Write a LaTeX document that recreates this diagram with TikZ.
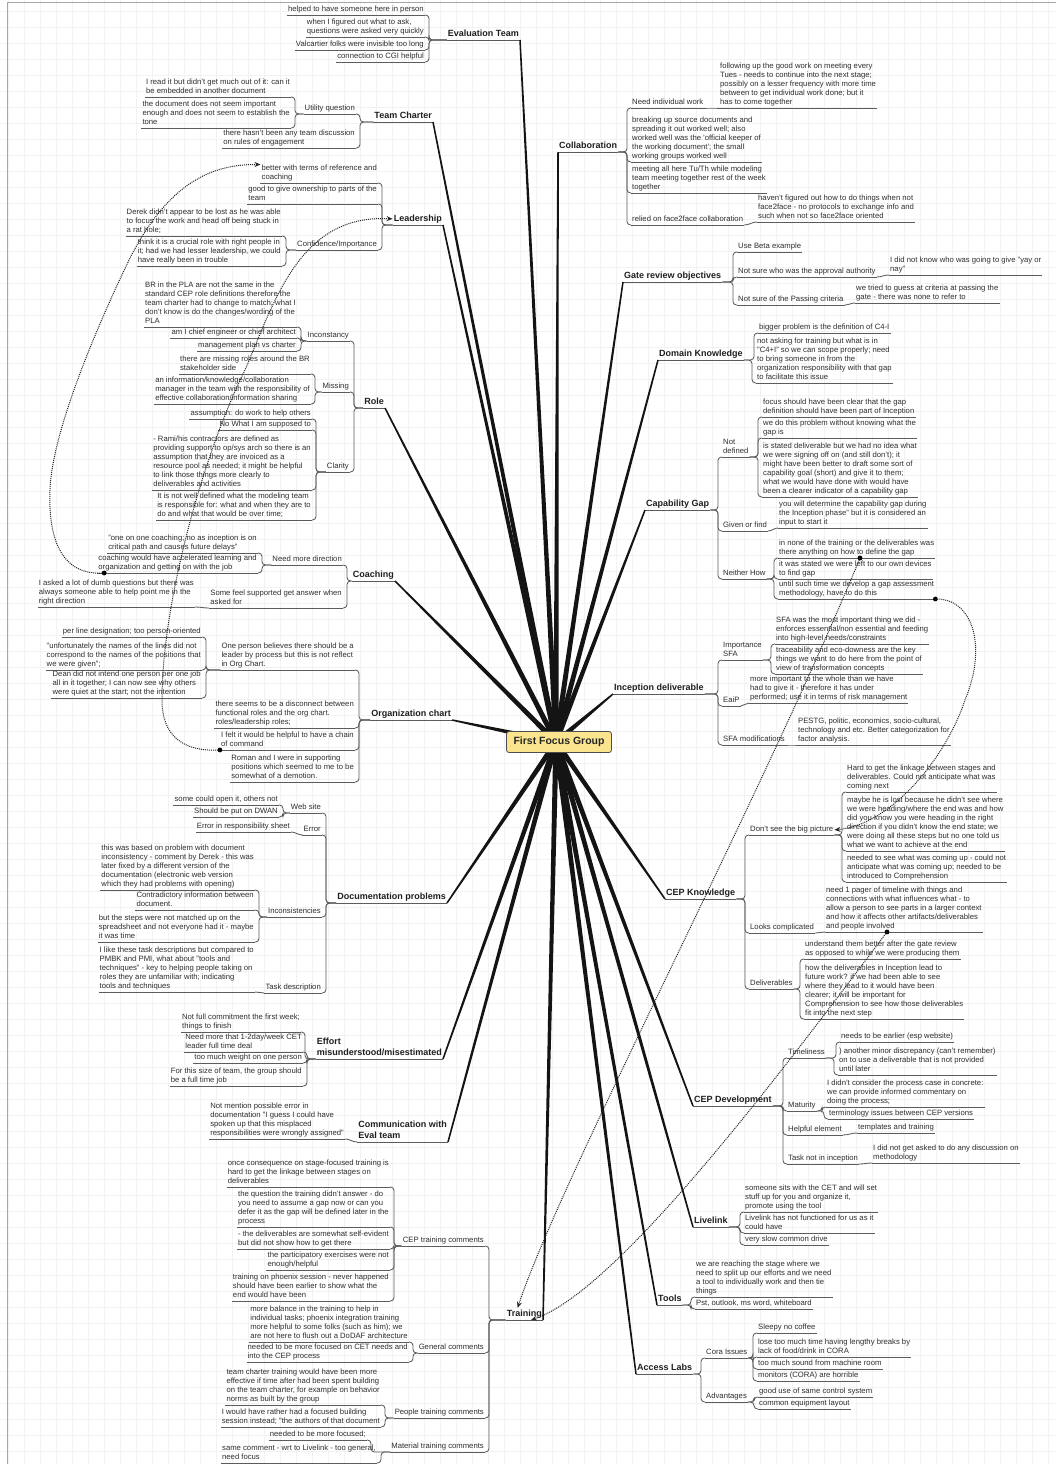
\documentclass[tikz,border=0pt]{standalone}
\usepackage{fontspec}
\setmainfont{Liberation Sans}
\usetikzlibrary{calc,arrows.meta}

% branch from a parent to a child placed on its right / on its left
\newcommand\brR[2]{\draw[br] (#1.south east) -| ([xshift=-4pt]#2.south west) -- (#2.south west);}
\newcommand\brL[2]{\draw[br] (#1.south west) -| ([xshift=4pt]#2.south east) -- (#2.south east);}
% short s-shaped link between a topic and a child on (almost) the same row
\newcommand\brSR[2]{\draw[br] (#1.south east) to[out=0,in=180] (#2.south west);}
\newcommand\brSL[2]{\draw[br] (#1.south west) to[out=180,in=0] (#2.south east);}
% tapered main branch from the central topic
\newcommand\trunk[1]{\fill[black!92] ($(ctr)!2.7pt!90:(#1)$) -- ($(#1)!0.75pt!-90:(ctr)$) -- ($(#1)!0.75pt!90:(ctr)$) -- ($(ctr)!2.7pt!-90:(#1)$) -- cycle;}

\begin{document}
\begin{tikzpicture}[x=1pt,y=-1pt,
  uline/.style={draw=black!64, line width=0.85pt},
  ul/.style={append after command={(\tikzlastnode.south west) edge[uline] (\tikzlastnode.south east)}},
  txt/.style={font=\fontsize{7.7}{9}\selectfont, text=black!82, align=left, inner xsep=1pt, inner ysep=0.4pt, execute at end node=\strut, ul},
  rl/.style={txt, anchor=south west},
  lf/.style={txt, anchor=south east},
  main/.style={font=\bfseries\fontsize{9}{10.6}\selectfont, text=black!88, align=left, inner xsep=1pt, inner ysep=0.6pt, execute at end node=\strut, ul},
  mr/.style={main, anchor=south west},
  ml/.style={main, anchor=south east},
  br/.style={draw=black!64, line width=0.85pt, rounded corners=3.5pt},
  rel/.style={draw=black!85, densely dotted, line width=1pt, -{Stealth[length=6pt,width=5pt]}},
  gridc/.style={draw=black!5, line width=0.4pt},
  rootbox/.style={draw=black!70, line width=0.8pt, fill={rgb,255:red,250;green,228;blue,142}, rounded corners=2.5pt, minimum width=105pt, minimum height=21pt, font=\bfseries\fontsize{10.5}{12}\selectfont, text=black!85}
]
\useasboundingbox (0,0) rectangle (1056,1464);
\fill[white] (0,0) rectangle (1056,1464);
\foreach \i in {8,24,...,1056} \draw[gridc] (\i,0) -- (\i,1464);
\foreach \j in {11,27,...,1464} \draw[gridc] (0,\j) -- (1056,\j);
\draw[black!35, line width=1pt] (7,1464) -- (7,3) -- (1056,3);

\coordinate (ctr) at (556,742);

% ---------------- right-hand topics ----------------
\node[mr] (col) at (558,152) {Collaboration};
\node[rl] (col1) at (631,108) {Need individual work};
\node[rl] (col1a) at (719,108) {following up the good work on meeting every\\Tues - needs to continue into the next stage;\\possibly on a lesser frequency with more time\\between to get individual work done; but it\\has to come together};
\node[rl] (col2) at (631,162) {breaking up source documents and\\spreading it out worked well; also\\worked well was the 'official keeper of\\the working document'; the small\\working groups worked well};
\node[rl] (col3) at (631,193) {meeting all here Tu/Th while modeling\\team meeting together rest of the week\\together};
\node[rl] (col4) at (631,225) {relied on face2face collaboration};
\node[rl] (col4a) at (757,222) {haven't figured out how to do things when not\\face2face - no protocols to exchange info and\\such when not so face2face oriented};
\brR{col}{col1}\brR{col}{col2}\brR{col}{col3}\brR{col}{col4}
\brSR{col1}{col1a}\brSR{col4}{col4a}

\node[mr] (gro) at (623,282) {Gate review objectives};
\node[rl] (gro1) at (737,252) {Use Beta example};
\node[rl] (gro2) at (737,277) {Not sure who was the approval authority};
\node[rl] (gro2a) at (889,275) {I did not know who was going to give "yay or\\nay"};
\node[rl] (gro3) at (737,305) {Not sure of the Passing criteria};
\node[rl] (gro3a) at (855,303) {we tried to guess at criteria at passing the\\gate - there was none to refer to};
\brR{gro}{gro1}\brR{gro}{gro2}\brR{gro}{gro3}\brSR{gro2}{gro2a}\brSR{gro3}{gro3a}

\node[mr] (dk) at (658,360) {Domain Knowledge};
\node[rl] (dk1) at (758,333) {bigger problem is the definition of C4-I};
\node[rl] (dk2) at (756,383) {not asking for training but what is in\\"C4+I" so we can scope properly; need\\to bring someone in from the\\organization responsibility with that gap\\to facilitate this issue};
\brR{dk}{dk1}\brR{dk}{dk2}

\node[mr] (cg) at (645,510) {Capability Gap};
\node[rl] (cg1) at (722,457) {Not\\defined};
\node[rl] (cg1a) at (762,417) {focus should have been clear that the gap\\definition should have been part of Inception};
\node[rl] (cg1b) at (762,438) {we do this problem without knowing what the\\gap is};
\node[rl] (cg1c) at (762,497) {is stated deliverable but we had no idea what\\we were signing off on (and still don't); it\\might have been better to draft some sort of\\capability goal (short) and give it to them;\\what we would have done with would have\\been a clearer indicator of a capability gap};
\node[rl] (cg2) at (722,531) {Given or find};
\node[rl] (cg2a) at (778,528) {you will determine the capability gap during\\the Inception phase" but it is considered an\\input to start it};
\node[rl] (cg3) at (722,579) {Neither How};
\node[rl] (cg3a) at (778,558) {in none of the training or the deliverables was\\there anything on how to define the gap};
\node[rl] (cg3b) at (778,579) {it was stated we were left to our own devices\\to find gap};
\node[rl] (cg3c) at (778,599) {until such time we develop a gap assessment\\methodology, have to do this};
\brR{cg}{cg1}\brR{cg}{cg2}\brR{cg}{cg3}
\brR{cg1}{cg1a}\brR{cg1}{cg1b}\brR{cg1}{cg1c}\brSR{cg2}{cg2a}
\brR{cg3}{cg3a}\brR{cg3}{cg3b}\brR{cg3}{cg3c}

\node[mr] (id) at (613,694) {Inception deliverable};
\node[rl] (id1) at (722,660) {Importance\\SFA};
\node[rl] (id1a) at (775,644) {SFA was the most important thing we did -\\enforces essential/non essential and feeding\\into high-level needs/constraints};
\node[rl] (id1b) at (775,674) {traceability and eco-downess are the key\\things we want to do here from the point of\\view of transformation concepts};
\node[rl] (id2) at (722,706) {EaiP};
\node[rl] (id2a) at (749,703) {more important to the whole than we have\\had to give it - therefore it has under\\performed; use it in terms of risk management};
\node[rl] (id3) at (722,745) {SFA modifications};
\node[rl] (id3a) at (797,745) {PESTG, politic, economics, socio-cultural,\\technology and etc. Better categorization for\\factor analysis.};
\brR{id}{id1}\brR{id}{id2}\brR{id}{id3}
\brR{id1}{id1a}\brR{id1}{id1b}\brSR{id2}{id2a}\brSR{id3}{id3a}

\node[mr] (ck) at (665,899) {CEP Knowledge};
\node[rl] (ck1) at (749,835) {Don't see the big picture};
\node[rl] (ck1a) at (846,792) {Hard to get the linkage between stages and\\deliverables. Could not anticipate what was\\coming next};
\node[rl] (ck1b) at (846,851) {maybe he is lost because he didn't see where\\we were heading/where the end was and how\\did you know you were heading in the right\\direction if you didn't know the end state; we\\were doing all these steps but no one told us\\what we want to achieve at the end};
\node[rl] (ck1c) at (846,882) {needed to see what was coming up - could not\\anticipate what was coming up; needed to be\\introduced to Comprehension};
\node[rl] (ck2) at (749,933) {Looks complicated};
\node[rl] (ck2a) at (825,932) {need 1 pager of timeline with things and\\connections with what influences what - to\\allow a person to see parts in a larger context\\and how it affects other artifacts/deliverables\\and people involved};
\node[rl] (ck3) at (749,989) {Deliverables};
\node[rl] (ck3a) at (804,959) {understand them better after the gate review\\as opposed to while we were producing them};
\node[rl] (ck3b) at (804,1019) {how the deliverables in Inception lead to\\future work? if we had been able to see\\where they lead to it would have been\\clearer; it will be important for\\Comprehension to see how those deliverables\\fit into the next step};
\brR{ck}{ck1}\brR{ck}{ck2}\brR{ck}{ck3}
\brR{ck1}{ck1a}\brR{ck1}{ck1b}\brR{ck1}{ck1c}\brSR{ck2}{ck2a}
\brR{ck3}{ck3a}\brR{ck3}{ck3b}

\node[mr] (cd) at (693,1106) {CEP Development};
\node[rl] (cd1) at (787,1058) {Timeliness};
\node[rl] (cd1a) at (840,1042) {needs to be earlier (esp website)};
\node[rl] (cd1b) at (838,1075) {) another minor discrepancy (can't remember)\\on to use a deliverable that is not provided\\until later};
\node[rl] (cd2) at (787,1111) {Maturity};
\node[rl] (cd2a) at (826,1107) {I didn't consider the process case in concrete:\\we can provide informed commentary on\\doing the process;};
\node[rl] (cd2b) at (828,1119) {terminology issues between CEP versions};
\node[rl] (cd3) at (787,1135) {Helpful element};
\node[rl] (cd3a) at (857,1133) {templates and training};
\node[rl] (cd4) at (787,1164) {Task not in inception};
\node[rl] (cd4a) at (872,1163) {I did not get asked to do any discussion on\\methodology};
\brR{cd}{cd1}\brR{cd}{cd2}\brR{cd}{cd3}\brR{cd}{cd4}
\brR{cd1}{cd1a}\brR{cd1}{cd1b}\brR{cd2}{cd2a}\brR{cd2}{cd2b}
\brSR{cd3}{cd3a}\brSR{cd4}{cd4a}

\node[mr] (lk) at (693,1227) {Livelink};
\node[rl] (lk1) at (744,1212) {someone sits with the CET and will set\\stuff up for you and organize it,\\promote using the tool};
\node[rl] (lk2) at (744,1233) {Livelink has not functioned for us as it\\could have};
\node[rl] (lk3) at (744,1245) {very slow common drive};
\brR{lk}{lk1}\brR{lk}{lk2}\brR{lk}{lk3}

\node[mr] (tl) at (657,1305) {Tools};
\node[rl] (tl1) at (695,1297) {we are reaching the stage where we\\need to split up our efforts and we need\\a tool to individually work and then tie\\things};
\node[rl] (tl2) at (695,1309) {Pst, outlook, ms word, whiteboard};
\brR{tl}{tl1}\brR{tl}{tl2}

\node[mr] (al) at (636,1374) {Access Labs};
\node[rl] (al1) at (705,1358) {Cora Issues};
\node[rl] (al1a) at (757,1333) {Sleepy no coffee};
\node[rl] (al1b) at (757,1357) {lose too much time having lengthy breaks by\\lack of food/drink in CORA};
\node[rl] (al1c) at (757,1369) {too much sound from machine room};
\node[rl] (al1d) at (757,1381) {monitors (CORA) are horrible};
\node[rl] (al2) at (705,1402) {Advantages};
\node[rl] (al2a) at (758,1397) {good use of same control system};
\node[rl] (al2b) at (758,1409) {common equipment layout};
\brR{al}{al1}\brR{al}{al2}
\brR{al1}{al1a}\brR{al1}{al1b}\brR{al1}{al1c}\brR{al1}{al1d}
\brR{al2}{al2a}\brR{al2}{al2b}

% ---------------- left-hand topics ----------------
\node[ml] (et) at (520,40) {Evaluation Team};
\node[lf] (et1) at (425,15) {helped to have someone here in person};
\node[lf] (et2) at (425,37) {when I figured out what to ask,\\questions were asked very quickly};
\node[lf] (et3) at (425,50) {Valcartier folks were invisible too long};
\node[lf] (et4) at (425,62) {connection to CGI helpful};
\brL{et}{et1}\brL{et}{et2}\brL{et}{et3}\brL{et}{et4}

\node[ml] (tc) at (433,122) {Team Charter};
\node[lf] (tc1) at (356,114) {Utility question};
\node[lf] (tc1a) at (291,97) {I read it but didn't get much out of it: can it\\be embedded in another document};
\node[lf] (tc1b) at (291,128) {the document does not seem important\\enough and does not seem to establish the\\tone};
\node[lf] (tc2) at (356,148) {there hasn't been any team discussion\\on rules of engagement};
\brL{tc}{tc1}\brL{tc}{tc2}\brL{tc1}{tc1a}\brL{tc1}{tc1b}

\node[ml] (ld) at (443,225) {Leadership};
\node[lf] (ld1) at (378,183) {better with terms of reference and\\coaching};
\node[lf] (ld2) at (378,204) {good to give ownership to parts of the\\team};
\node[lf] (ld3) at (378,250) {Confidence/Importance};
\node[lf] (ld3a) at (282,236) {Derek didn't appear to be lost as he was able\\to focus the work and head off being stuck in\\a rat hole;};
\node[lf] (ld3b) at (282,266) {think it is a crucial role with right people in\\it; had we had lesser leadership, we could\\have really been in trouble};
\brL{ld}{ld1}\brL{ld}{ld2}\brL{ld}{ld3}\brL{ld3}{ld3a}\brL{ld3}{ld3b}

\node[ml] (ro) at (385,408) {Role};
\node[lf] (ro1) at (350,341) {Inconstancy};
\node[lf] (ro1a) at (297,327) {BR in the PLA are not the same in the\\standard CEP role definitions therefore the\\team charter had to change to match; what I\\don't know is do the changes/wording of the\\PLA};
\node[lf] (ro1b) at (297,338) {am I chief engineer or chief architect};
\node[lf] (ro1c) at (297,351) {management plan vs charter};
\node[lf] (ro2) at (350,392) {Missing};
\node[lf] (ro2a) at (311,374) {there are missing roles around the BR\\stakeholder side};
\node[lf] (ro2b) at (311,404) {an information/knowledge/collaboration\\manager in the team with the responsibility of\\effective collaboration/information sharing};
\node[lf] (ro3) at (350,472) {Clarity};
\node[lf] (ro3a) at (312,419) {assumption: do work to help others};
\node[lf] (ro3b) at (312,430) {No What I am supposed to};
\node[lf] (ro3c) at (312,490) {- Rami/his contractors are defined as\\providing support to op/sys arch so there is an\\assumption that they are invoiced as a\\resource pool as needed; it might be helpful\\to link those things more clearly to\\deliverables and activities};
\node[lf] (ro3d) at (312,520) {It is not well defined what the modeling team\\is responsible for: what and when they are to\\do and what that would be over time;};
\brL{ro}{ro1}\brL{ro}{ro2}\brL{ro}{ro3}
\brL{ro1}{ro1a}\brL{ro1}{ro1b}\brL{ro1}{ro1c}
\brL{ro2}{ro2a}\brL{ro2}{ro2b}
\brL{ro3}{ro3a}\brL{ro3}{ro3b}\brL{ro3}{ro3c}\brL{ro3}{ro3d}

\node[ml] (co) at (395,581) {Coaching};
\node[lf] (co1) at (343,565) {Need more direction};
\node[lf] (co1a) at (258,553) {"one on one coaching; no as inception is on\\critical path and causes future delays"};
\node[lf] (co1b) at (258,573) {coaching would have accelerated learning and\\organization and getting on with the job};
\node[lf] (co2) at (343,608) {Some feel supported get answer when\\asked for};
\node[lf] (co2a) at (195,607) {I asked a lot of dumb questions but there was\\always someone able to help point me in the\\right direction};
\brL{co}{co1}\brL{co}{co2}\brL{co1}{co1a}\brL{co1}{co1b}\brSL{co2}{co2a}

\node[ml] (oc) at (452,720) {Organization chart};
\node[lf] (oc1) at (355,670) {One person believes there should be a\\leader by process but this is not reflect\\in Org Chart.};
\node[lf] (oc1a) at (202,637) {per line designation; too person-oriented};
\node[lf] (oc1b) at (202,670) {"unfortunately the names of the lines did not\\correspond to the names of the positions that\\we were given";};
\node[lf] (oc1c) at (202,698) {Dean did not intend one person per one job\\all in it together; I can now see why others\\were quiet at the start; not the intention};
\node[lf] (oc2) at (355,728) {there seems to be a disconnect between\\functional roles and the org chart.\\roles/leadership roles;};
\node[lf] (oc3) at (355,750) {I felt it would be helpful to have a chain\\of command};
\node[lf] (oc4) at (355,782) {Roman and I were in supporting\\positions which seemed to me to be\\somewhat of a demotion.};
\brL{oc}{oc1}\brL{oc}{oc2}\brL{oc}{oc3}\brL{oc}{oc4}
\brL{oc1}{oc1a}\brL{oc1}{oc1b}\brL{oc1}{oc1c}

\node[ml] (dp) at (447,903) {Documentation problems};
\node[lf] (dp1) at (322,813) {Web site};
\node[lf] (dp1a) at (279,805) {some could open it, others not};
\node[lf] (dp1b) at (279,817) {Should be put on DWAN};
\node[lf] (dp2) at (322,835) {Error};
\node[lf] (dp2a) at (291,832) {Error in responsibility sheet};
\node[lf] (dp3) at (322,917) {Inconsistencies};
\node[lf] (dp3a) at (255,890) {this was based on problem with document\\inconsistency - comment by Derek - this was\\later fixed by a different version of the\\documentation (electronic web version\\which they had problems with opening)};
\node[lf] (dp3b) at (255,910) {Contradictory information between\\document.};
\node[lf] (dp3c) at (255,942) {but the steps were not matched up on the\\spreadsheet and not everyone had it - maybe\\it was time};
\node[lf] (dp4) at (322,993) {Task description};
\node[lf] (dp4a) at (255,992) {I like these task descriptions but compared to\\PMBK and PMI, what about "tools and\\techniques" - key to helping people taking on\\roles they are unfamiliar with; indicating\\tools and techniques};
\brL{dp}{dp1}\brL{dp}{dp2}\brL{dp}{dp3}\brL{dp}{dp4}
\brL{dp1}{dp1a}\brL{dp1}{dp1b}\brSL{dp2}{dp2a}
\brL{dp3}{dp3a}\brL{dp3}{dp3b}\brL{dp3}{dp3c}\brSL{dp4}{dp4a}

\node[ml] (ef) at (443,1059) {Effort\\misunderstood/misestimated};
\node[lf] (ef1) at (301,1032) {Not full commitment the first week;\\things to finish};
\node[lf] (ef2) at (303,1052) {Need more that 1-2day/week CET\\leader full time deal};
\node[lf] (ef3) at (303,1063) {too much weight on one person};
\node[lf] (ef4) at (303,1086) {For this size of team, the group should\\be a full time job};
\brL{ef}{ef1}\brL{ef}{ef2}\brL{ef}{ef3}\brL{ef}{ef4}

\node[ml] (cm) at (448,1142) {Communication with\\Eval team};
\node[lf] (cm1) at (345,1139) {Not mention possible error in\\documentation "I guess I could have\\spoken up that this misplaced\\responsibilities were wrongly assigned"};
\brSL{cm}{cm1}

\node[ml] (tr) at (543,1320) {Training};
\node[lf] (tr1) at (485,1246) {CEP training comments};
\node[lf] (tr1a) at (390,1187) {once consequence on stage-focused training is\\hard to get the linkage between stages on\\deliverables};
\node[lf] (tr1b) at (390,1227) {the question the training didn't answer - do\\you need to assume a gap now or can you\\defer it as the gap will be defined later in the\\process};
\node[lf] (tr1c) at (390,1249) {- the deliverables are somewhat self-evident\\but did not show how to get there};
\node[lf] (tr1d) at (390,1270) {the participatory exercises were not\\enough/helpful};
\node[lf] (tr1e) at (390,1301) {training on phoenix session - never happened\\should have been earlier to show what the\\end would have been};
\node[lf] (tr2) at (485,1353) {General comments};
\node[lf] (tr2a) at (409,1342) {more balance in the training to help in\\individual tasks; phoenix integration training\\more helpful to some folks (such as him); we\\are not here to flush out a DoDAF architecture};
\node[lf] (tr2b) at (409,1362) {needed to be more focused on CET needs and\\into the CEP process};
\node[lf] (tr3) at (485,1418) {People training comments};
\node[lf] (tr3a) at (381,1405) {team charter training would have been more\\effective if time after had been spent building\\on the team charter, for example on behavior\\norms as built by the group};
\node[lf] (tr3b) at (381,1427) {I would have rather had a focused building\\session instead; "the authors of that document};
\node[lf] (tr4) at (485,1452) {Material training comments};
\node[lf] (tr4a) at (367,1440) {needed to be more focused;};
\node[lf] (tr4b) at (377,1463) {same comment - wrt to Livelink - too general,\\need focus};
\brL{tr}{tr1}\brL{tr}{tr2}\brL{tr}{tr3}\brL{tr}{tr4}
\brL{tr1}{tr1a}\brL{tr1}{tr1b}\brL{tr1}{tr1c}\brL{tr1}{tr1d}\brL{tr1}{tr1e}
\brL{tr2}{tr2a}\brL{tr2}{tr2b}\brL{tr3}{tr3a}\brL{tr3}{tr3b}
\brL{tr4}{tr4a}\brL{tr4}{tr4b}

% ---------------- main branches ----------------
\trunk{et.south east}\trunk{tc.south east}\trunk{ld.south east}\trunk{ro.south east}
\trunk{co.south east}\trunk{oc.south east}\trunk{dp.south east}\trunk{ef.south east}
\trunk{cm.south east}\trunk{tr.south east}
\trunk{col.south west}\trunk{gro.south west}\trunk{dk.south west}\trunk{cg.south west}
\trunk{id.south west}\trunk{ck.south west}\trunk{cd.south west}\trunk{lk.south west}
\trunk{tl.south west}\trunk{al.south west}

% ---------------- relationship links ----------------
\coordinate (ra) at ([xshift=7pt]co1b.south west);
\coordinate (rd) at ([xshift=62pt]ck2a.south west);
\coordinate (re) at ([xshift=82pt]cg3a.south west);
\fill[black] (ra) circle[radius=2.4pt];
\fill[black] (oc3.south west) circle[radius=2.4pt];
\fill[black] (cg3c.south east) circle[radius=2.4pt];
\fill[black] (rd) circle[radius=2.4pt];
\fill[black] (re) circle[radius=2.4pt];
\draw[rel] (ra) .. controls (62,576) and (48,540) .. (50,490)
  .. controls (52,430) and (100,320) .. (130,258)
  .. controls (165,190) and (205,164) .. (ld1.north west);
\draw[rel] (oc3.south west) .. controls (182,752) and (162,735) .. (162,700)
  .. controls (162,600) and (205,450) .. (245,370)
  .. controls (275,300) and (300,214) .. (ld.west);
\draw[rel] (cg3c.south east) .. controls (972,598) and (988,645) .. (965,700)
  .. controls (945,760) and (890,825) .. (ck1.east);
\draw[rel] (rd) .. controls (790,1060) and (620,1290) .. ([xshift=-12pt]tr.south east);
\draw[rel] (re) .. controls (760,800) and (560,1180) .. ([xshift=12pt]tr.north west);

% ---------------- central topic ----------------
\node[rootbox] (root) at (559,742) {First Focus Group};
\end{tikzpicture}
\end{document}
